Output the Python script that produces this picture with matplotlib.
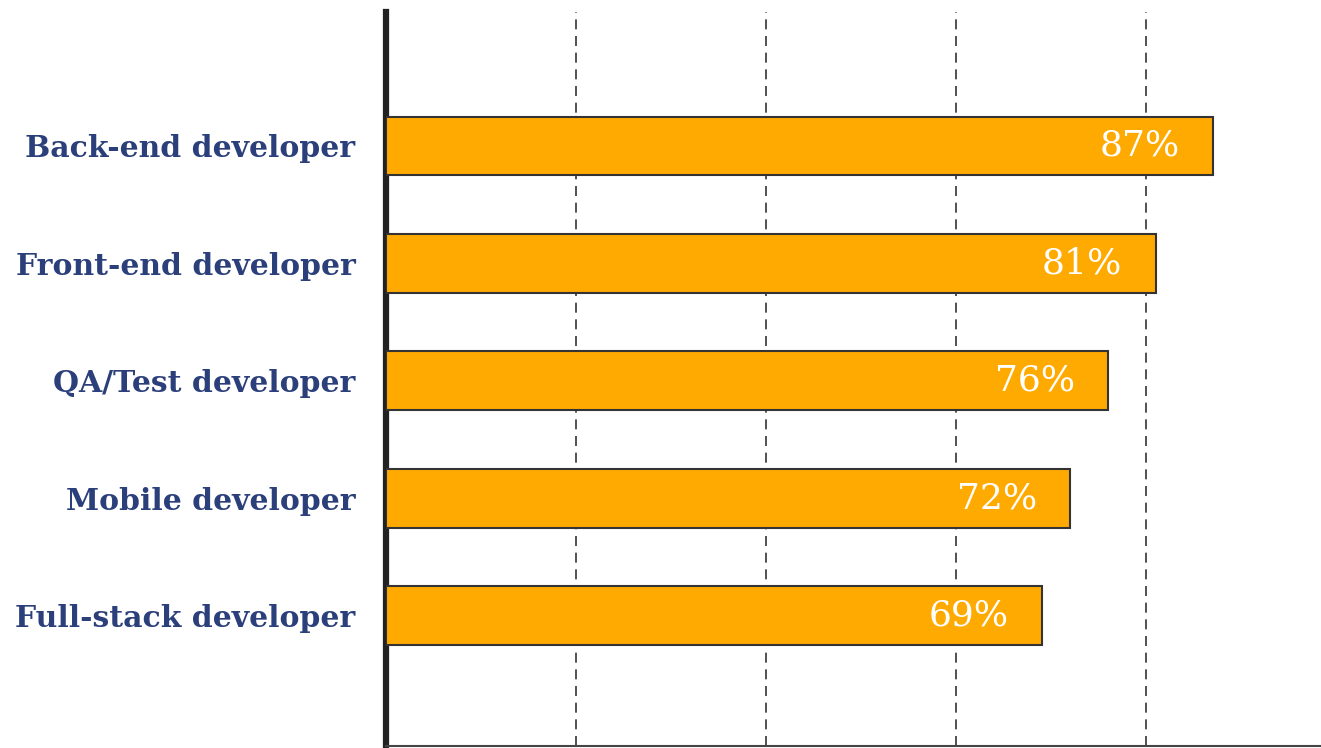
import matplotlib
matplotlib.use("Agg")
import matplotlib.pyplot as plt

# 資料
roles = ["Back-end developer", "Front-end developer", "QA/Test developer",
         "Mobile developer", "Full-stack developer"]
shares = [87, 81, 76, 72, 69]

plt.rc("font", family="DejaVu Serif")

fig = plt.figure(figsize=(13.21, 7.48), dpi=100)
ax = fig.add_axes([386 / 1321, 2 / 748, 1 - 386 / 1321, 734 / 748])

ypos = list(range(len(roles)))
ax.barh(ypos, shares, height=0.5, color="#FFAA00", edgecolor="#333333", linewidth=1.5, zorder=3)

for y, v in zip(ypos, shares):
    ax.text(v - 3.5, y, f"{v}%", ha="right", va="center", color="white",
            fontsize=26, zorder=4)

ax.set_xlim(0, 98.4)
ax.set_ylim(len(roles) - 1 + 1.11, -1.14)
ax.set_xticks([20, 40, 60, 80])
ax.set_xticklabels([])
ax.tick_params(axis="x", length=0)
ax.xaxis.grid(True, linestyle=(0, (6, 4)), color="#333333", linewidth=1.2, zorder=0)

ax.set_yticks(ypos)
ax.set_yticklabels(roles, fontsize=21.5, fontweight="bold", color="#2B3F7A")
ax.tick_params(axis="y", length=0, pad=22)

for s in ["top", "right"]:
    ax.spines[s].set_visible(False)
ax.spines["left"].set_linewidth(4.5)
ax.spines["left"].set_color("#222222")
ax.spines["bottom"].set_linewidth(1.5)
ax.spines["bottom"].set_color("#444444")

fig.savefig("out.png", dpi=100)
